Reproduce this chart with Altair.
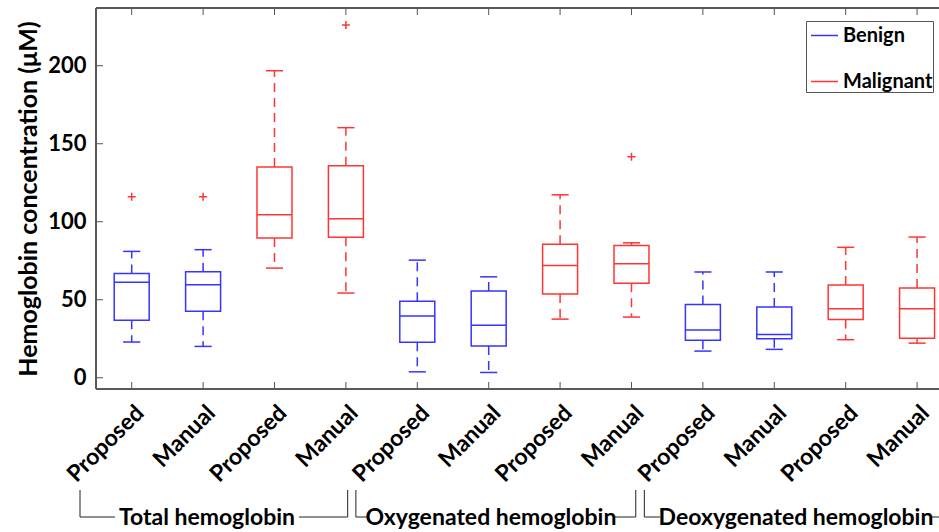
import json

import altair as alt
import pandas as pd

# ---- data -------------------------------------------------------------
positions = list(range(1, 13))
methods = ["Proposed", "Manual"] * 6
classes = ["Benign", "Benign", "Malignant", "Malignant"] * 3

lower = [22.9, 20.1, 70.3, 54.3, 3.8, 3.4, 37.6, 38.9, 17.1, 18.2, 24.4, 22.2]
q1 = [36.8, 42.6, 89.6, 90.0, 22.7, 20.3, 53.7, 60.5, 24.0, 25.0, 37.4, 25.3]
median = [61.3, 59.6, 104.5, 101.9, 39.6, 33.6, 72.0, 73.1, 30.6, 27.8, 44.2, 44.2]
q3 = [66.9, 67.9, 135.1, 135.9, 49.0, 55.6, 85.5, 84.8, 47.0, 45.3, 59.4, 57.5]
upper = [81.0, 82.1, 196.8, 160.3, 75.4, 64.7, 117.3, 86.5, 67.8, 67.8, 83.6, 90.2]

outlier_pos = [1, 2, 4, 8]
outlier_val = [116.0, 116.0, 226.1, 141.7]

y_ticks = [0, 50, 100, 150, 200]

# group brackets under the category labels (x in box-position units)
group_names = ["Total hemoglobin", "Oxygenated hemoglobin", "Deoxygenated hemoglobin"]
bracket_left = [0.276, 4.14, 8.18]
gap_left = [0.766, 4.323, 8.399]
gap_right = [3.343, 7.741, 12.21]
bracket_right = [4.025, 8.06, 12.4]

# ---- layout / style ---------------------------------------------------
W, H = 843, 381
X_DOMAIN = [0.5, 12.307]
Y_DOMAIN = [-7.2, 237.0]
FONT = "Lato"
BLUE, RED = "#3535ff", "#ff3535"
FRAME = "#555555"
BOX_HALF, CAP_HALF = 0.245, 0.12
TICK_LEN = 7

boxes = pd.DataFrame(
    dict(pos=positions, method=methods, cls=classes, lower=lower, q1=q1,
         median=median, q3=q3, upper=upper)
)
outliers = pd.DataFrame(dict(pos=outlier_pos, value=outlier_val))
brackets = pd.DataFrame(
    dict(name=group_names, left=bracket_left, gl=gap_left, gr=gap_right,
         right=bracket_right)
)
yt = pd.DataFrame(dict(v=y_ticks))

xs = alt.Scale(domain=X_DOMAIN, nice=False, zero=False)
ys = alt.Scale(domain=Y_DOMAIN, nice=False, zero=False)
color = alt.Color(
    "cls:N",
    scale=alt.Scale(domain=["Benign", "Malignant"], range=[BLUE, RED]),
    legend=alt.Legend(
        title=None, orient="none", legendX=710, legendY=13,
        symbolType="stroke", symbolSize=729, symbolStrokeWidth=1.5,
        symbolOffset=4,
        labelFont=FONT, labelFontWeight="bold", labelFontSize=20,
        labelColor="black", rowPadding=21, padding=0, labelOffset=4,
        strokeColor=FRAME, fillColor="white", labelLimit=200,
    ),
)
cls = alt.Color("cls:N")

label_expr = f"{json.dumps(methods)}[datum.value - 1]"
x_axis = alt.Axis(
    values=positions, labelExpr=label_expr, labelAngle=-45, labelAlign="right",
    labelBaseline="middle", labelFont=FONT, labelFontWeight="bold",
    labelFontSize=23, labelColor="black", labelPadding=20, labelOffset=8,
    labelOverlap=False, ticks=False, domain=False, grid=False, title=None,
)
y_axis = alt.Axis(
    values=y_ticks, labelFont=FONT, labelFontWeight="bold", labelFontSize=22,
    labelColor="black", labelPadding=10, ticks=False, domain=False, grid=False,
    title="Hemoglobin concentration (μM)", titleFont=FONT,
    titleFontWeight="bold", titleFontSize=25, titleColor="black",
    titlePadding=6,
)

base = alt.Chart(boxes).transform_calculate(
    bl="datum.pos - %f" % BOX_HALF, br="datum.pos + %f" % BOX_HALF,
    cl="datum.pos - %f" % CAP_HALF, cr="datum.pos + %f" % CAP_HALF,
)

box = base.mark_rect(filled=False, strokeWidth=1.5).encode(
    x=alt.X("bl:Q", scale=xs, axis=x_axis), x2="br:Q",
    y=alt.Y("q1:Q", scale=ys, axis=y_axis), y2="q3:Q",
    color=color,
)
med = base.mark_rule(strokeWidth=1.5).encode(
    x=alt.X("bl:Q", scale=xs), x2="br:Q",
    y=alt.Y("median:Q", scale=ys), color=cls,
)
whisk_hi = base.mark_rule(strokeWidth=1.5, strokeDash=[9, 6]).encode(
    x=alt.X("pos:Q", scale=xs), y=alt.Y("q3:Q", scale=ys), y2="upper:Q",
    color=cls,
)
whisk_lo = base.mark_rule(strokeWidth=1.5, strokeDash=[9, 6]).encode(
    x=alt.X("pos:Q", scale=xs), y=alt.Y("q1:Q", scale=ys), y2="lower:Q",
    color=cls,
)
cap_hi = base.mark_rule(strokeWidth=1.5).encode(
    x=alt.X("cl:Q", scale=xs), x2="cr:Q", y=alt.Y("upper:Q", scale=ys),
    color=cls,
)
cap_lo = base.mark_rule(strokeWidth=1.5).encode(
    x=alt.X("cl:Q", scale=xs), x2="cr:Q", y=alt.Y("lower:Q", scale=ys),
    color=cls,
)
out = alt.Chart(outliers).mark_point(
    shape="M-1,0L1,0M0,-1L0,1", size=64, filled=False, strokeWidth=1.5,
    color=RED, opacity=1,
).encode(x=alt.X("pos:Q", scale=xs), y=alt.Y("value:Q", scale=ys))

# frame (top, left, bottom) and inward ticks
frame_top = alt.Chart(yt).mark_rule(color=FRAME, strokeWidth=1).encode(
    x=alt.value(0), x2=alt.value(W), y=alt.value(0))
frame_bot = alt.Chart(yt).mark_rule(color=FRAME, strokeWidth=1).encode(
    x=alt.value(0), x2=alt.value(W), y=alt.value(H))
frame_left = alt.Chart(yt).mark_rule(color=FRAME, strokeWidth=1).encode(
    x=alt.value(0), y=alt.value(0), y2=alt.value(H))
tick_bot = alt.Chart(boxes).mark_rule(color=FRAME).encode(
    x=alt.X("pos:Q", scale=xs), y=alt.value(H), y2=alt.value(H - TICK_LEN))
tick_top = alt.Chart(boxes).mark_rule(color=FRAME).encode(
    x=alt.X("pos:Q", scale=xs), y=alt.value(0), y2=alt.value(TICK_LEN))
tick_left = alt.Chart(yt).mark_rule(color=FRAME).encode(
    y=alt.Y("v:Q", scale=ys), x=alt.value(0), x2=alt.value(TICK_LEN))

# group brackets below the category labels
BR_TOP, BR_BOT = 482, 509
bk = alt.Chart(brackets)
br_vl = bk.mark_rule(color="#222", strokeWidth=1).encode(
    x=alt.X("left:Q", scale=xs), y=alt.value(BR_TOP), y2=alt.value(BR_BOT))
br_vr = bk.mark_rule(color="#222", strokeWidth=1).encode(
    x=alt.X("right:Q", scale=xs), y=alt.value(BR_TOP), y2=alt.value(BR_BOT))
br_hl = bk.mark_rule(color="#222", strokeWidth=1).encode(
    x=alt.X("left:Q", scale=xs), x2="gl:Q", y=alt.value(BR_BOT))
br_hr = bk.mark_rule(color="#222", strokeWidth=1).encode(
    x=alt.X("gr:Q", scale=xs), x2="right:Q", y=alt.value(BR_BOT))
br_txt = bk.transform_calculate(mid="(datum.gl + datum.gr) / 2").mark_text(
    font=FONT, fontWeight="bold", fontSize=23, color="black",
    align="center", baseline="middle", dy=1,
).encode(x=alt.X("mid:Q", scale=xs), y=alt.value(BR_BOT), text="name:N")

chart = alt.layer(
    frame_top, frame_bot, frame_left, tick_bot, tick_top, tick_left,
    whisk_hi, whisk_lo, cap_hi, cap_lo, box, med, out,
    br_vl, br_vr, br_hl, br_hr, br_txt,
).properties(
    width=W, height=H,
    padding={"left": 96, "top": 8, "right": 0, "bottom": 143},
    autosize=alt.AutoSizeParams(type="none"),
    background="white",
).configure_view(stroke=None)

chart.save("out.html", embed_options={"renderer": "svg", "actions": False})
